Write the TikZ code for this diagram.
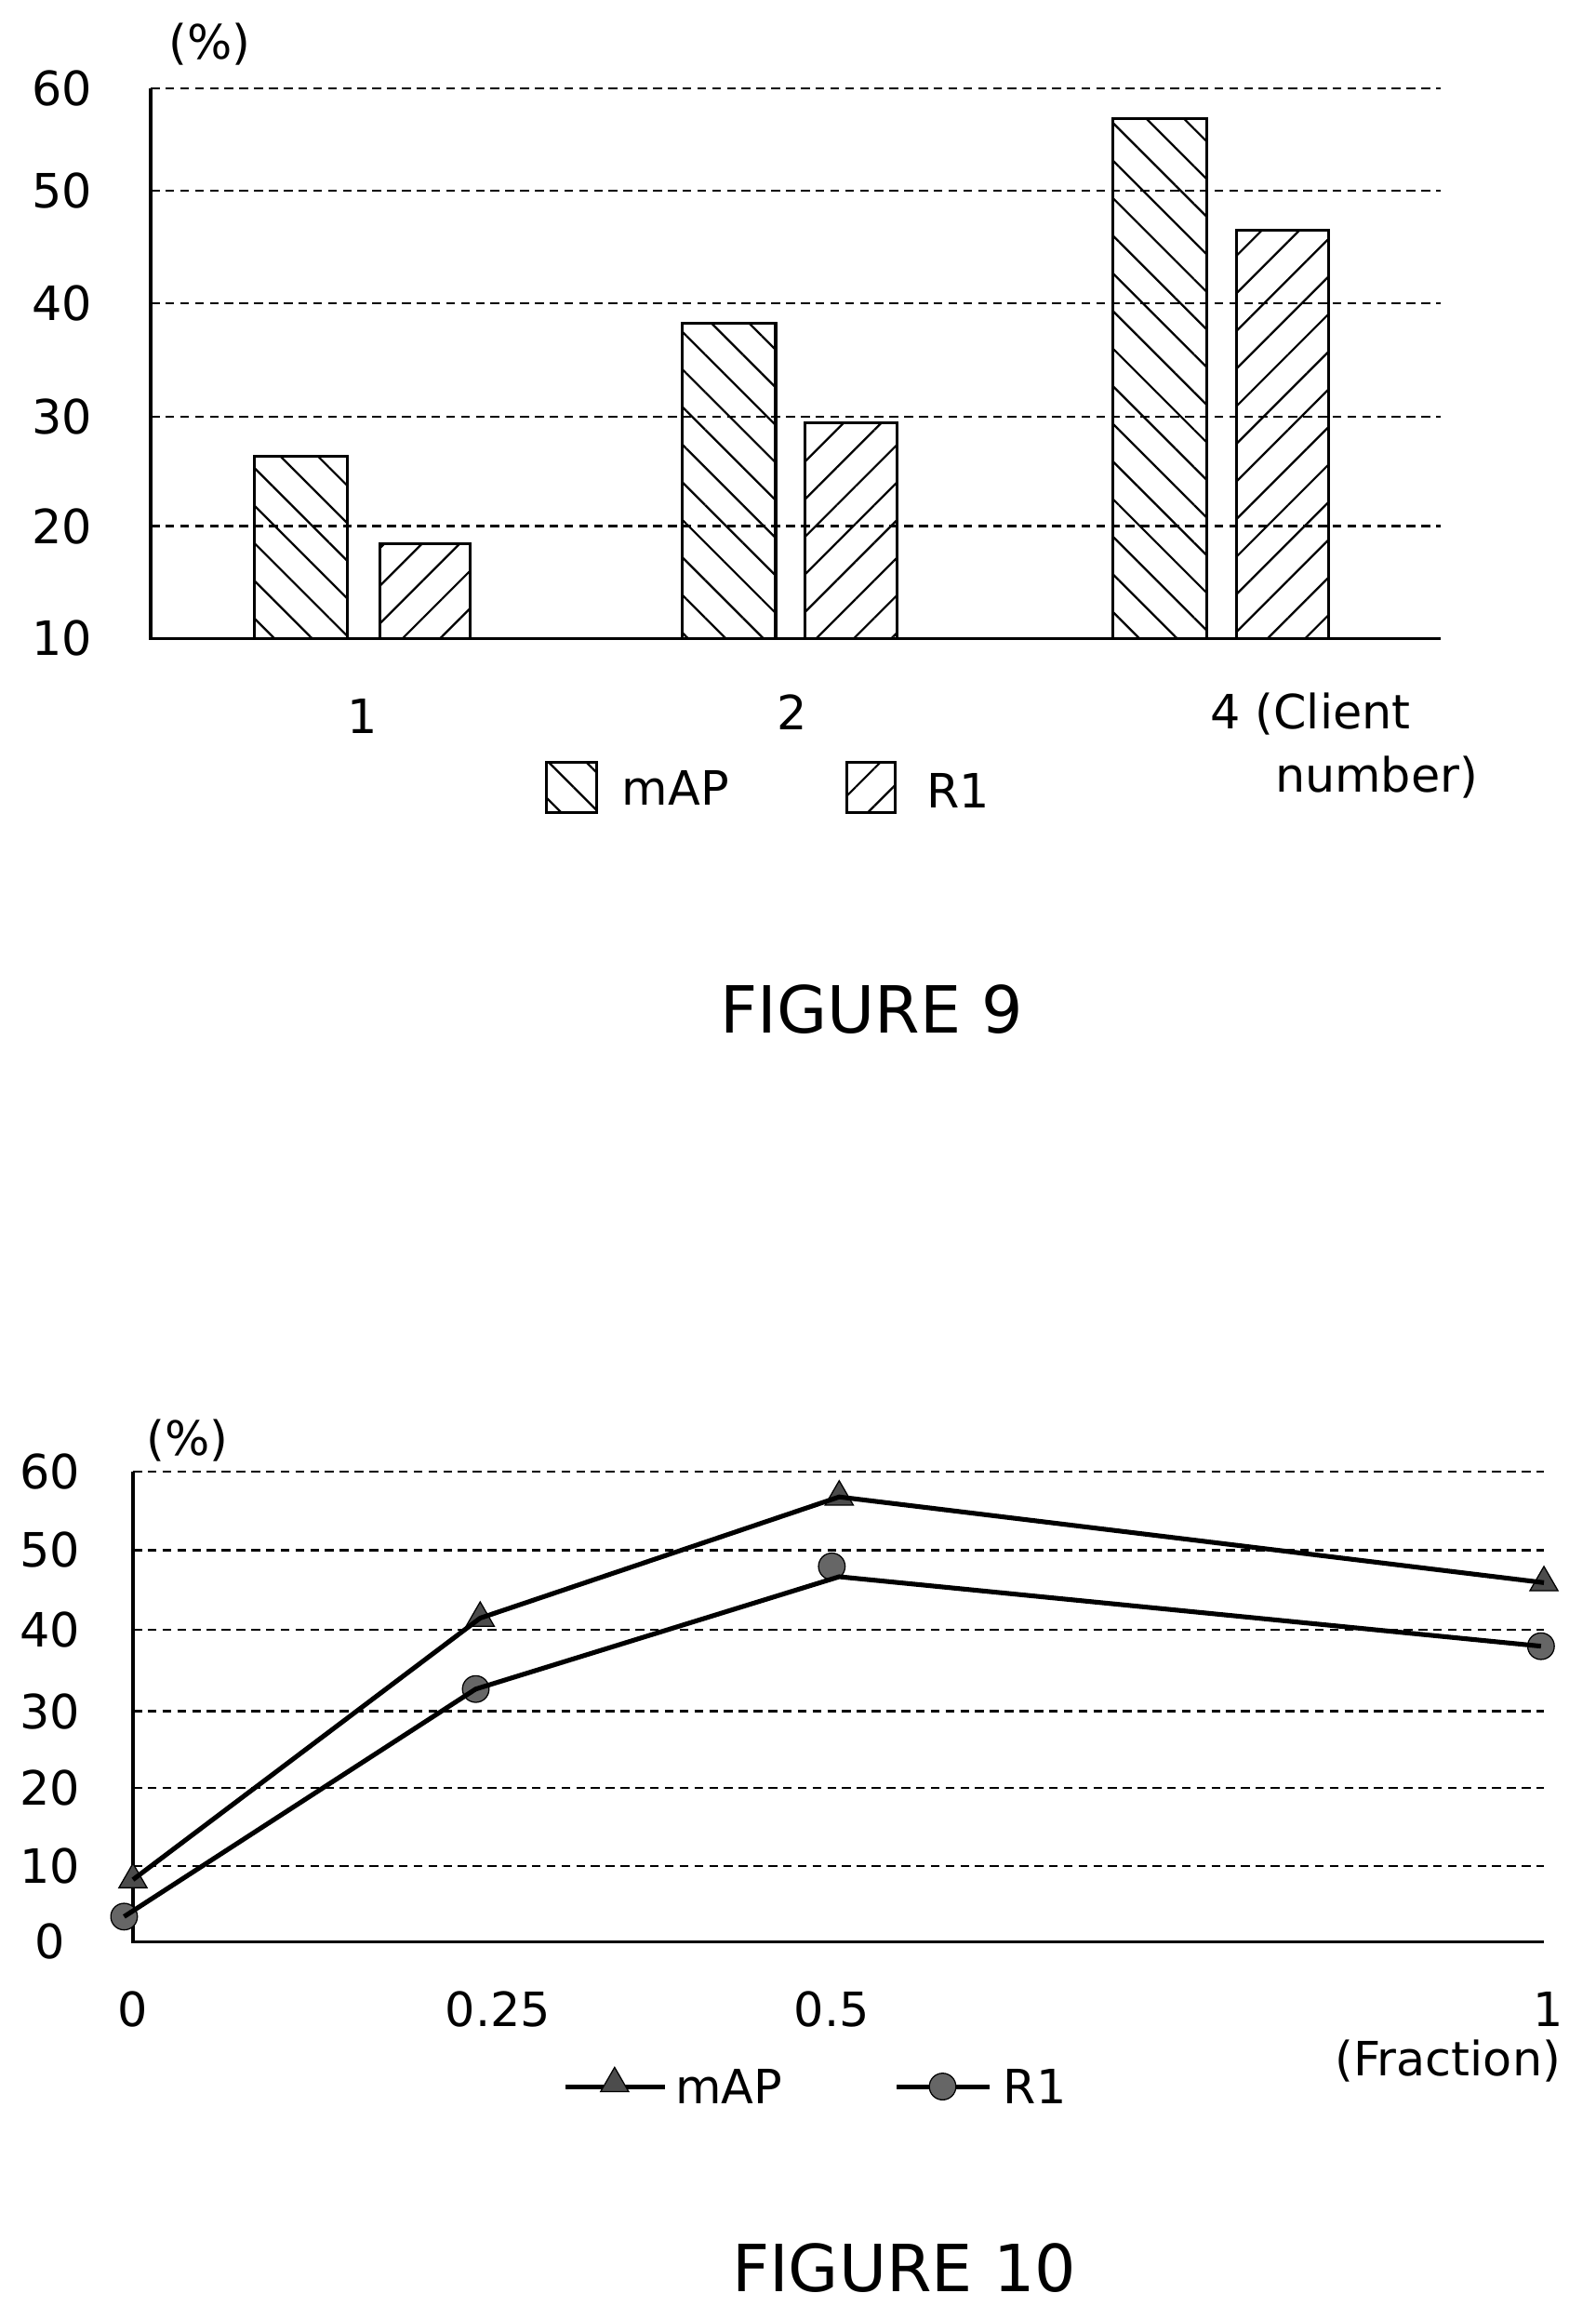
\documentclass[tikz,border=0pt]{standalone}
\usepackage{fontspec}
\setmainfont{DejaVu Sans}
\usetikzlibrary{patterns.meta,shapes.geometric}
\begin{document}
\begin{tikzpicture}[x=0.5pt,y=-0.5pt,
  lbl/.style={font=\fontsize{16}{18}\selectfont},
  big/.style={font=\fontsize{22}{26}\selectfont},
  grid/.style={densely dashed,line width=0.7pt},
  mapbar/.style={draw,line width=1pt,pattern={Lines[angle=-45,distance=9pt,line width=0.7pt]}},
  rbar/.style={draw,line width=1pt,pattern={Lines[angle=45,distance=9pt,line width=0.7pt]}},
  ser/.style={line width=1.6pt},
  tri/.style={fill=black!70,draw=black,regular polygon,regular polygon sides=3,inner sep=0pt,minimum size=11pt},
  dot/.style={fill=black!60,draw=black,circle,inner sep=0pt,minimum size=9pt}]
\useasboundingbox (0,0) rectangle (1080,1570);
% ---------- Figure 9
\foreach \y/\v in {60/60,129/50,205/40,282/30,356/20} {
  \draw[grid] (102,\y) -- (975,\y);
  \node[lbl] (f9y\v) at (42,\y) {\v};}
\node[lbl] (f9y10) at (42,432) {10};
\draw[line width=1pt] (102,60) -- (102,432) -- (975,432);
\node[lbl] (f9u) at (142,30) {(\%)};
\path[mapbar] (172,309) rectangle (235,432);
\path[rbar] (257,368) rectangle (318,432);
\path[mapbar] (462,219) rectangle (525,432);
\path[rbar] (545,286) rectangle (607,432);
\path[mapbar] (753,80) rectangle (817,432);
\path[rbar] (837,156) rectangle (899,432);
\node[lbl] (x1) at (245,485) {1};
\node[lbl] (x2) at (536,482) {2};
\node[lbl,anchor=west] (x4) at (812,483) {4 (Client};
\node[lbl,anchor=west] (x4b) at (856,526) {number)};
\path[mapbar] (370,516) rectangle (404,550);
\node[lbl,anchor=west] (lm) at (414,533) {mAP};
\path[rbar] (573,516) rectangle (606,550);
\node[lbl,anchor=west] (lr) at (620,535) {R1};
\node[big] (fig9) at (590,683) {FIGURE 9};
% ---------- Figure 10
\foreach \y/\v in {996/60,1049/50,1103/40,1158/30,1210/20,1263/10} {
  \draw[grid] (90,\y) -- (1045,\y);
  \node[lbl] (g\v) at (34,\y) {\v};}
\node[lbl] (g0) at (34,1314) {0};
\draw[line width=1pt] (90,996) -- (90,1314) -- (1045,1314);
\node[lbl] (f10u) at (127,975) {(\%)};
\node[tri] (m1) at (90,1272) {};
\node[tri] (m2) at (325,1095) {};
\node[tri] (m3) at (568,1013) {};
\node[tri] (m4) at (1045,1071) {};
\draw[ser] (m1.center) -- (m2.center) -- (m3.center) -- (m4.center);
\node[dot] (r1) at (84,1297) {};
\node[dot] (r2) at (322,1143) {};
\node[dot] (r3) at (563,1060) {};
\node[dot] (r4) at (1043,1114) {};
\draw[ser] (r1.center) -- (r2.center) -- (568,1067) -- (r4.center);
\node[lbl] (t0) at (90,1360) {0};
\node[lbl] (t1) at (337,1360) {0.25};
\node[lbl] (t2) at (563,1360) {0.5};
\node[lbl] (t3) at (1048,1360) {1};
\node[lbl] (tf) at (980,1395) {(Fraction)};
\coordinate (la) at (383,1412); \coordinate (lb) at (450,1412);
\draw[ser] (la) -- (lb);
\node[tri] (lt) at (416,1410) {};
\node[lbl,anchor=west] (lmap) at (450,1412) {mAP};
\coordinate (lc) at (607,1412); \coordinate (ld) at (670,1412);
\draw[ser] (lc) -- (ld);
\node[dot] (ld2) at (638,1412) {};
\node[lbl,anchor=west] (lr1) at (672,1412) {R1};
\node[big] (fig10) at (612,1535) {FIGURE 10};
\end{tikzpicture}
\end{document}
